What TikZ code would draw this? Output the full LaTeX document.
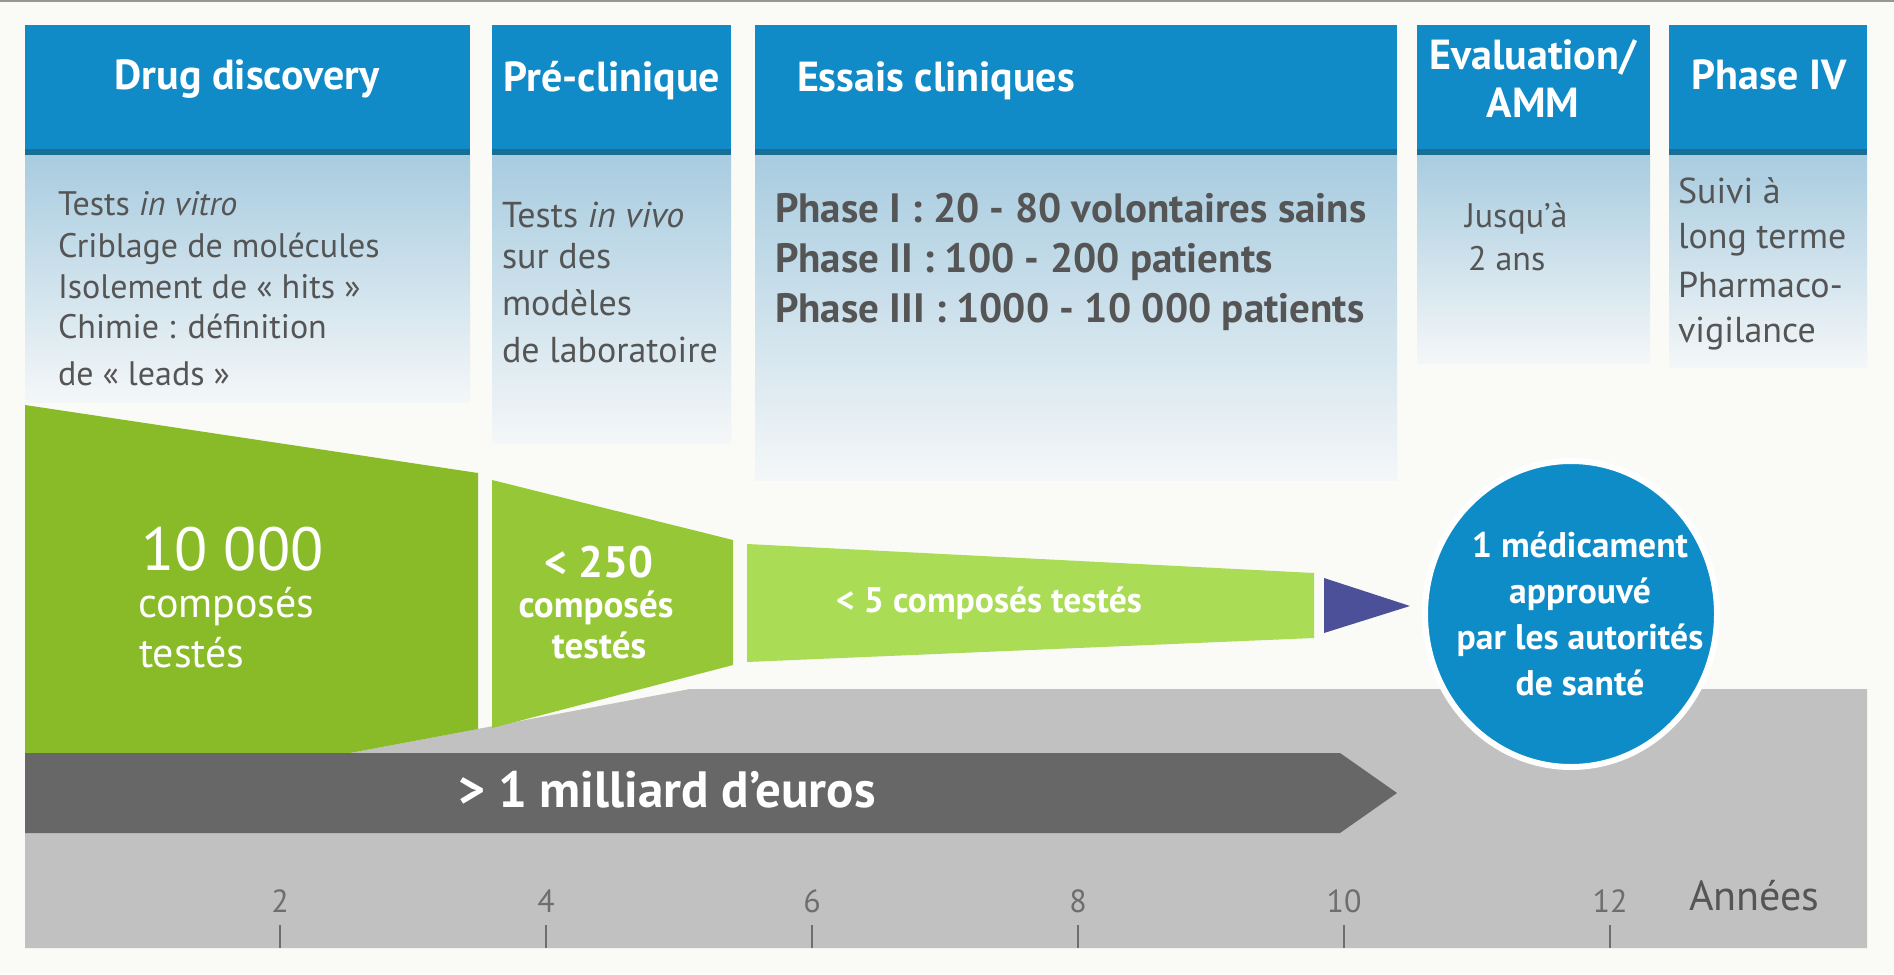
\documentclass[tikz,border=0pt]{standalone}
\usepackage{fontspec}
\setmainfont{PT Sans}
\usetikzlibrary{shapes.geometric}
\definecolor{bg}{RGB}{250,250,246}
\definecolor{hblue}{RGB}{16,139,199}
\definecolor{hdark}{RGB}{24,110,150}
\definecolor{ptop}{RGB}{168,204,224}
\definecolor{pbot}{RGB}{244,247,248}
\definecolor{gA}{RGB}{137,187,40}
\definecolor{gB}{RGB}{150,199,55}
\definecolor{gC}{RGB}{170,220,85}
\definecolor{tri}{RGB}{76,80,152}
\definecolor{cblue}{RGB}{14,140,200}
\definecolor{dbar}{RGB}{103,103,103}
\definecolor{lgray}{RGB}{193,193,193}
\definecolor{ptext}{RGB}{85,85,85}
\definecolor{axt}{RGB}{110,110,110}
\definecolor{topline}{RGB}{150,150,150}
\begin{document}
\begin{tikzpicture}[x=0.5pt,y=-0.5pt,
  every node/.style={inner sep=0pt,outer sep=0pt},
  hdrtxt/.style={text=white,font=\bfseries\fontsize{21}{24}\selectfont,anchor=base},
  paneltxt/.style={text=ptext,font=\fontsize{17}{20}\selectfont,anchor=base west},
  panelbig/.style={paneltxt,font=\fontsize{18}{21}\selectfont},
  ectxt/.style={text=ptext,font=\bfseries\fontsize{20.5}{24}\selectfont,anchor=base west},
  grtxt/.style={text=white,anchor=base west},
  axlabel/.style={text=axt,font=\fontsize{16}{18}\selectfont,anchor=base},
  tickline/.style={draw=axt,line width=1pt},
  panel/.style={top color=ptop,bottom color=pbot,draw=none},
  hdrbox/.style={fill=hblue},
  hdrband/.style={fill=hdark}]

% background
\fill[bg] (0,0) rectangle (1894,974);
\useasboundingbox (0,0) rectangle (1894,974);
\fill[topline] (0,0) rectangle (1894,2);

% light blue panels
\shade[panel] (25,155) rectangle (470,402);
\shade[panel] (492,155) rectangle (731,443);
\shade[panel] (755,155) rectangle (1397,480);
\shade[panel] (1417,155) rectangle (1650,363);
\shade[panel] (1669,155) rectangle (1867,367);

% headers
\fill[hdrbox] (25,25) rectangle (470,155);
\fill[hdrbox] (492,25) rectangle (731,155);
\fill[hdrbox] (755,25) rectangle (1397,155);
\fill[hdrbox] (1417,25) rectangle (1650,155);
\fill[hdrbox] (1669,25) rectangle (1867,155);
\foreach \a/\b in {25/470,492/731,755/1397,1417/1650,1669/1867}
  \fill[hdrband] (\a,149) rectangle (\b,155);

\node[hdrtxt] (h1) at (247,90) {Drug discovery};
\node[hdrtxt] (h2) at (612,92) {Pré-clinique};
\node[hdrtxt,anchor=base west] (h3) at (797,92) {Essais cliniques};
\node[hdrtxt] (h4a) at (1533,70) {Evaluation/};
\node[hdrtxt] (h4b) at (1533,118) {AMM};
\node[hdrtxt] (h5) at (1769,90) {Phase IV};

% panel texts
\node[paneltxt] (d1) at (58,215) {Tests \textit{in vitro}};
\node[paneltxt] (d2) at (58,257) {Criblage de molécules};
\node[paneltxt] (d3) at (58,298) {Isolement de « hits »};
\node[paneltxt] (d4) at (58,338) {Chimie : définition};
\node[paneltxt] (d5) at (58,385) {de « leads »};

\node[panelbig] (p1) at (502,227) {Tests \textit{in vivo}};
\node[panelbig] (p2) at (502,268) {sur des};
\node[panelbig] (p3) at (502,315) {modèles};
\node[panelbig] (p4) at (502,362) {de laboratoire};

\node[ectxt] (e1) at (775,222) {Phase I : 20 - 80 volontaires sains};
\node[ectxt] (e2) at (775,272) {Phase II : 100 - 200 patients};
\node[ectxt] (e3) at (775,322) {Phase III : 1000 - 10 000 patients};

\node[paneltxt] (v1) at (1465,227) {Jusqu’à};
\node[paneltxt] (v2) at (1468,270) {2 ans};

\node[panelbig] (f1) at (1678,203) {Suivi à};
\node[panelbig] (f2) at (1678,248) {long terme};
\node[panelbig] (f3) at (1678,297) {Pharmaco-};
\node[panelbig] (f4) at (1678,342) {vigilance};

% light gray ground
\fill[lgray] (25,753) -- (350,753) -- (690,689) -- (1867,689) -- (1867,948) -- (25,948) -- cycle;

% green funnel
\fill[gA] (25,405) -- (478,473) -- (478,729) -- (350,753) -- (25,753) -- cycle;
\fill[gB] (492,480) -- (733,540) -- (733,665) -- (492,728) -- cycle;
\fill[gC] (747,544) -- (1314,573) -- (1314,638) -- (747,662) -- cycle;

\node[grtxt,font=\fontsize{30.5}{36}\selectfont] (n1) at (141,570) {10 000};
\node[grtxt,font=\fontsize{21}{24}\selectfont] (n1b) at (138,617) {composés};
\node[grtxt,font=\fontsize{21}{24}\selectfont] (n1c) at (139,667) {testés};

\node[grtxt,anchor=base,font=\bfseries\fontsize{22}{26}\selectfont] (n2) at (599,577) {< 250};
\node[grtxt,anchor=base,font=\bfseries\fontsize{18.5}{20}\selectfont] (n2b) at (596,617) {composés};
\node[grtxt,anchor=base,font=\bfseries\fontsize{18.5}{20}\selectfont] (n2c) at (599,658) {testés};

\node[grtxt,anchor=base,font=\bfseries\fontsize{17.8}{20}\selectfont] (n3) at (989,612) {< 5 composés testés};

% cost bar
\fill[dbar] (25,753) -- (1340,753) -- (1397,793) -- (1340,833) -- (25,833) -- cycle;
\node[text=white,anchor=base,font=\bfseries\fontsize{25.5}{30}\selectfont] (cost) at (667,807) {> 1 milliard d’euros};

% result
\node[ellipse,fill=cblue,draw=white,line width=3pt,minimum width=146pt,minimum height=153pt] (medc) at (1571,614) {};
\node[align=center,text=white,font=\bfseries\fontsize{17.8}{23}\selectfont] (med) at (1580,614)
      {1 médicament\\approuvé\\par les autorités\\de santé};
\fill[tri] (1324,578) -- (1410,606) -- (1324,633) -- cycle;

% axis
\foreach \i/\x in {2/280,4/546,6/812,8/1078,10/1344,12/1610}{
  \node[axlabel] (ax\i) at (\x,912) {\i};
  \draw[tickline] (\x,925) -- (\x,948);
}
\node[text=ptext,anchor=base west,font=\fontsize{21}{24}\selectfont] (annees) at (1689,910) {Années};
\end{tikzpicture}
\end{document}
